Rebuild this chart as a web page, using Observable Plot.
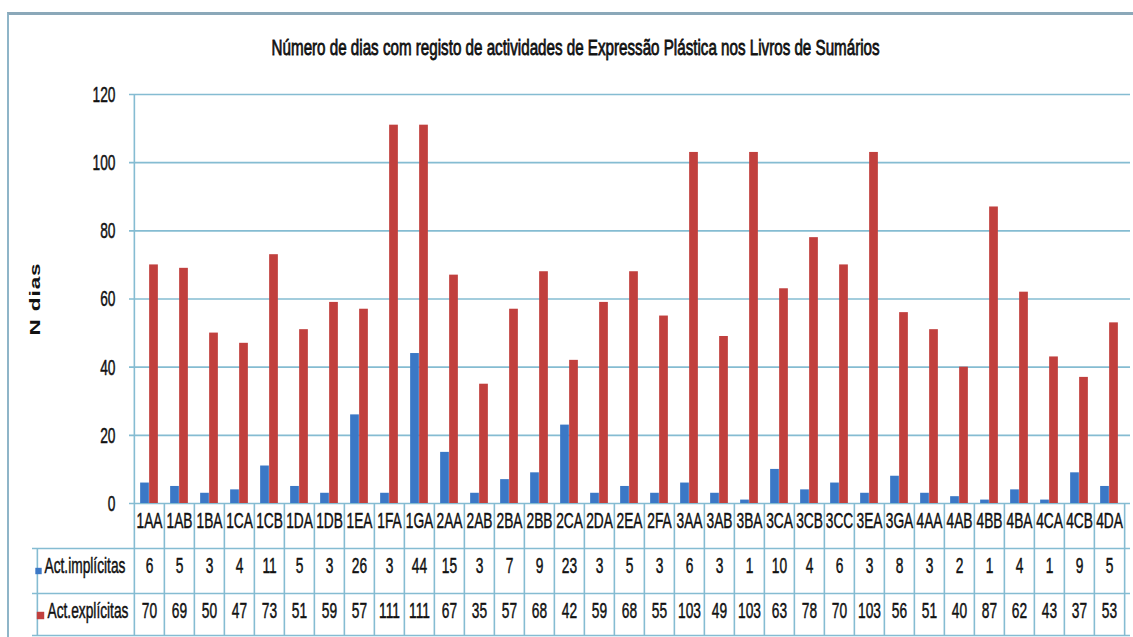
<!DOCTYPE html>
<html>
<head>
<meta charset="utf-8">
<script src="https://cdn.jsdelivr.net/npm/d3@7"></script>
<script src="https://cdn.jsdelivr.net/npm/@observablehq/plot@0.6"></script>
<style>
  html, body { margin: 0; padding: 0; background: #fff; }
  body { width: 1133px; height: 637px; overflow: hidden; position: relative;
         font-family: "Liberation Sans", Arial, sans-serif; }
  #frame { position: absolute; left: 7px; top: 12px; width: 1200px; height: 700px;
           border-left: 2px solid #8fb5c8; border-top: 3px solid #8ba8b9; box-sizing: border-box; }
  #titlebox { position: absolute; left: 0; width: 1152px; top: 37px; height: 24px; text-align: center; }
  #title { display: inline-block; font-size: 16px; line-height: 22px; color: #111; white-space: nowrap;
           -webkit-text-stroke: 0.6px #111; transform-origin: center; }
  #ylabel { position: absolute; left: 34px; top: 299px; font-family: "Liberation Sans", Arial, sans-serif;
            font-weight: bold; font-size: 15px; color: #111; letter-spacing: 0.6px; white-space: nowrap;
            transform: translate(-50%, -50%) rotate(-90deg) scaleX(1.5); }
  #chart { position: absolute; left: 0; top: 64px; }
  #chart svg text { font-family: "Liberation Sans", Arial, sans-serif; font-size: 16px; fill: #111;
                    stroke: #111; stroke-width: 0.35px; }
</style>
</head>
<body>
<div id="frame"></div>
<div id="titlebox"><span id="title">Número de dias com registo de actividades de Expressão Plástica nos Livros de Sumários</span></div>
<div id="ylabel">N dias</div>
<div id="chart"></div>
<script>
// ---- data ----
const categories = ["1AA","1AB","1BA","1CA","1CB","1DA","1DB","1EA","1FA","1GA",
  "2AA","2AB","2BA","2BB","2CA","2DA","2EA","2FA",
  "3AA","3AB","3BA","3CA","3CB","3CC","3EA","3GA",
  "4AA","4AB","4BB","4BA","4CA","4CB","4DA"];
const implicitas = [6,5,3,4,11,5,3,26,3,44, 15,3,7,9,23,3,5,3, 6,3,1,10,4,6,3,8, 3,2,1,4,1,9,5];
const explicitas = [70,69,50,47,73,51,59,57,111,111, 67,35,57,68,42,59,68,55, 103,49,103,63,78,70,103,56, 51,40,87,62,43,37,53];
const seriesNames = ["Act.implícitas", "Act.explícitas"];
const yTicks = [0, 20, 40, 60, 80, 100, 120];

const data = categories.map((c, i) => ({cat: c, impl: implicitas[i], expl: explicitas[i]}));

// ---- layout ----
const W = 1133, H = 573, mL = 129, mR = 5, mT = 30, mB = 134;
const frameH = H - mT - mB;
const bw = (W - mL - mR) / categories.length;
const barW = 9;
const padL = (bw - 2 * barW) / 2;
const rowEnds = [45, 90, 132];
const rowMid = [22.5, 67.5, 112];
const labelW = 97;
const blue = "#3b78c6", red = "#c1403e", grid = "#85bcd2";
const lineW = 1.6;

const chart = Plot.plot({
  width: W, height: H,
  marginLeft: mL, marginRight: mR, marginTop: mT, marginBottom: mB,
  style: {background: "transparent", overflow: "visible"},
  x: {type: "band", domain: categories, padding: 0, axis: null},
  y: {domain: [0, 120], ticks: yTicks, tickSize: 0, tickPadding: 14, label: null},
  marks: [
    Plot.ruleY(yTicks, {stroke: grid, strokeWidth: lineW, insetRight: -2}),
    Plot.barY(data, {x: "cat", y: "impl", fill: blue, insetLeft: padL, insetRight: bw - padL - barW}),
    Plot.barY(data, {x: "cat", y: "expl", fill: red, insetLeft: padL + barW, insetRight: padL}),
    Plot.ruleX([categories[0]], {x: d => d, dx: -bw / 2, insetBottom: -rowEnds[2], stroke: grid, strokeWidth: lineW}),
    Plot.ruleX(categories.slice(1), {x: d => d, dx: -bw / 2, insetTop: frameH, insetBottom: -rowEnds[2], stroke: grid, strokeWidth: lineW}),
    Plot.ruleX([categories[categories.length - 1]], {x: d => d, dx: bw / 2, insetTop: frameH, insetBottom: -rowEnds[2], stroke: grid, strokeWidth: lineW}),
    Plot.ruleX([categories[0]], {x: d => d, dx: -bw / 2 - labelW, insetTop: frameH + rowEnds[0], insetBottom: -rowEnds[2], stroke: grid, strokeWidth: lineW}),
    Plot.ruleY([0], {dy: rowEnds[0], insetLeft: -labelW, insetRight: -2, stroke: grid, strokeWidth: lineW}),
    Plot.ruleY([0], {dy: rowEnds[1], insetLeft: -labelW, insetRight: -2, stroke: grid, strokeWidth: lineW}),
    Plot.ruleY([0], {dy: rowEnds[2], insetLeft: -labelW, insetRight: -2, stroke: grid, strokeWidth: lineW}),
    Plot.text(data, {x: "cat", text: "cat", frameAnchor: "bottom", dy: rowMid[0]}),
    Plot.text(data, {x: "cat", text: "impl", frameAnchor: "bottom", dy: rowMid[1]}),
    Plot.text(data, {x: "cat", text: "expl", frameAnchor: "bottom", dy: rowMid[2]}),
    Plot.dot([seriesNames[0]], {frameAnchor: "bottom-left", dx: -labelW + 6, dy: rowMid[1], symbol: "square", r: 3.6, fill: blue}),
    Plot.dot([seriesNames[1]], {frameAnchor: "bottom-left", dx: -labelW + 8, dy: rowMid[2], symbol: "square", r: 4.2, fill: red}),
    Plot.text([seriesNames[0]], {text: d => d, frameAnchor: "bottom-left", dx: -labelW + 12, dy: rowMid[1], textAnchor: "start"}),
    Plot.text([seriesNames[1]], {text: d => d, frameAnchor: "bottom-left", dx: -labelW + 15, dy: rowMid[2], textAnchor: "start"})
  ]
});
document.getElementById("chart").appendChild(chart);

// ---- mimic the tall, narrow lettering of the reference ----
const texts = Array.from(chart.querySelectorAll("text"));
const ref = texts.find(t => t.textContent === seriesNames[0]);
const sx = ref ? Math.min(1, 81 / ref.getComputedTextLength()) : 0.9;
const sy = 1.42;
texts.forEach(t => {
  const b = t.getBBox();
  const anchor = getComputedStyle(t).textAnchor;
  const cx = anchor === "start" ? b.x : anchor === "end" ? b.x + b.width : b.x + b.width / 2;
  const cy = b.y + b.height / 2;
  const prev = t.getAttribute("transform") || "";
  t.setAttribute("transform", `${prev} translate(${cx},${cy}) scale(${sx},${sy}) translate(${-cx},${-cy})`);
});

const title = document.getElementById("title");
const tw = title.getBoundingClientRect().width;
title.style.transform = `scale(${608 / tw}, 1.35)`;
</script>
</body>
</html>
